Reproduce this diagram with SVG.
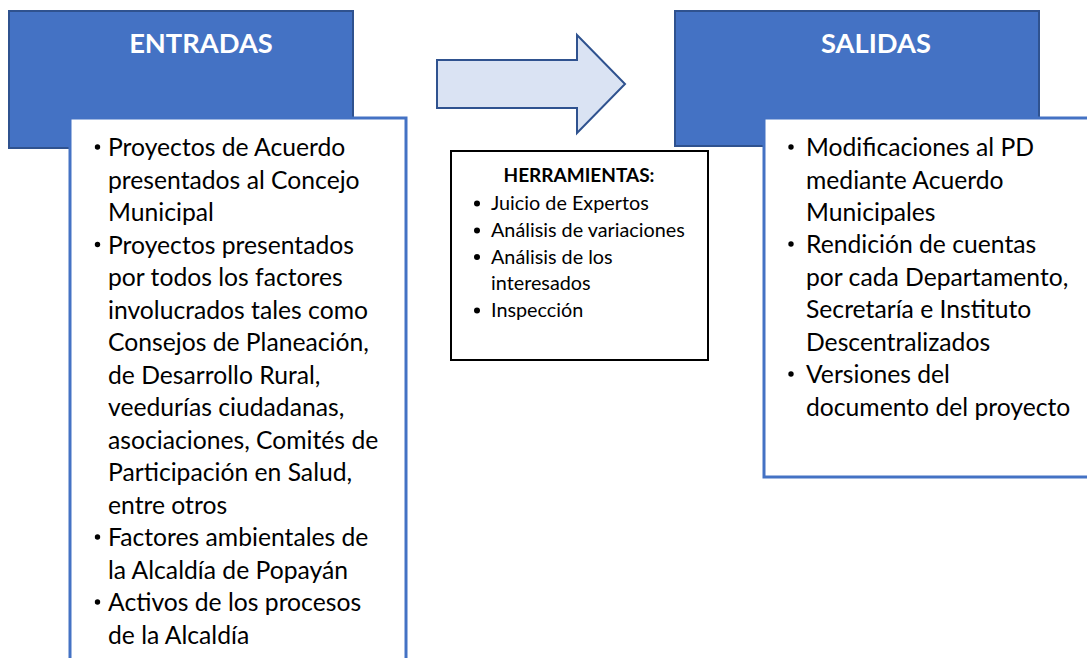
<svg xmlns="http://www.w3.org/2000/svg" width="1087" height="658" viewBox="0 0 1087 658">
<style>
.hdr{fill:#4472C4;stroke:#2F528F;stroke-width:2}
.panel{fill:#FFFFFF;stroke:#4472C4;stroke-width:3}
.ht{font-family:Lato,"Liberation Sans",sans-serif;font-weight:bold;font-size:27.3px;fill:#FFFFFF;text-anchor:middle}
.bt{font-family:Lato,"Liberation Sans",sans-serif;font-size:24.7px;fill:#000000}
.st{font-family:Lato,"Liberation Sans",sans-serif;font-size:19.8px;fill:#000000}
.sb{font-family:Lato,"Liberation Sans",sans-serif;font-size:19px;font-weight:bold;fill:#000000;text-anchor:middle}
</style>
<g id="connectors">
<path d="M437,60 H577 V35 L625,84 L577,133 V108 H437 Z" fill="#DAE3F3" stroke="#2F528F" stroke-width="2"/>
</g>
<g id="entradas">
<rect class="hdr" x="9" y="11" width="344" height="137"/>
<text class="ht" x="201" y="53">ENTRADAS</text>
<rect class="panel" x="70" y="118" width="336" height="545"/>
<g fill="#000000">
<circle cx="97.5" cy="147" r="2.7"/>
<circle cx="97.5" cy="244.5" r="2.7"/>
<circle cx="97.5" cy="537" r="2.7"/>
<circle cx="97.5" cy="602" r="2.7"/>
</g>
<g class="bt">
<text x="108" y="156">Proyectos de Acuerdo</text>
<text x="108" y="188.5">presentados al Concejo</text>
<text x="108" y="221">Municipal</text>
<text x="108" y="253.5">Proyectos presentados</text>
<text x="108" y="286">por todos los factores</text>
<text x="108" y="318.5">involucrados tales como</text>
<text x="108" y="351">Consejos de Planeación,</text>
<text x="108" y="383.5">de Desarrollo Rural,</text>
<text x="108" y="416">veedurías ciudadanas,</text>
<text x="108" y="448.5">asociaciones, Comités de</text>
<text x="108" y="481">Participación en Salud,</text>
<text x="108" y="513.5">entre otros</text>
<text x="108" y="546">Factores ambientales de</text>
<text x="108" y="578.5">la Alcaldía de Popayán</text>
<text x="108" y="611">Activos de los procesos</text>
<text x="108" y="643.5">de la Alcaldía</text>
</g>
</g>
<g id="herramientas">
<rect x="451" y="151" width="257" height="209" fill="#FFFFFF" stroke="#000000" stroke-width="2"/>
<text class="sb" x="579" y="182">HERRAMIENTAS:</text>
<g fill="#000000">
<circle cx="477" cy="203.5" r="3"/>
<circle cx="477" cy="230.5" r="3"/>
<circle cx="477" cy="257" r="3"/>
<circle cx="477" cy="310.5" r="3"/>
</g>
<g class="st">
<text x="491" y="210">Juicio de Expertos</text>
<text x="491" y="237">Análisis de variaciones</text>
<text x="491" y="263.5">Análisis de los</text>
<text x="491" y="290">interesados</text>
<text x="491" y="317">Inspección</text>
</g>
</g>
<g id="salidas">
<rect class="hdr" x="675" y="11" width="364" height="135"/>
<text class="ht" x="876" y="53">SALIDAS</text>
<rect class="panel" x="764" y="118" width="330" height="359"/>
<g fill="#000000">
<circle cx="791" cy="147" r="2.7"/>
<circle cx="791" cy="244" r="2.7"/>
<circle cx="791" cy="374" r="2.7"/>
</g>
<g class="bt">
<text x="806" y="156">Modificaciones al PD</text>
<text x="806" y="188.5">mediante Acuerdo</text>
<text x="806" y="221">Municipales</text>
<text x="806" y="253">Rendición de cuentas</text>
<text x="806" y="285.5">por cada Departamento,</text>
<text x="806" y="318">Secretaría e Instituto</text>
<text x="806" y="350.5">Descentralizados</text>
<text x="806" y="383">Versiones del</text>
<text x="806" y="415.5">documento del proyecto</text>
</g>
</g>
</svg>
